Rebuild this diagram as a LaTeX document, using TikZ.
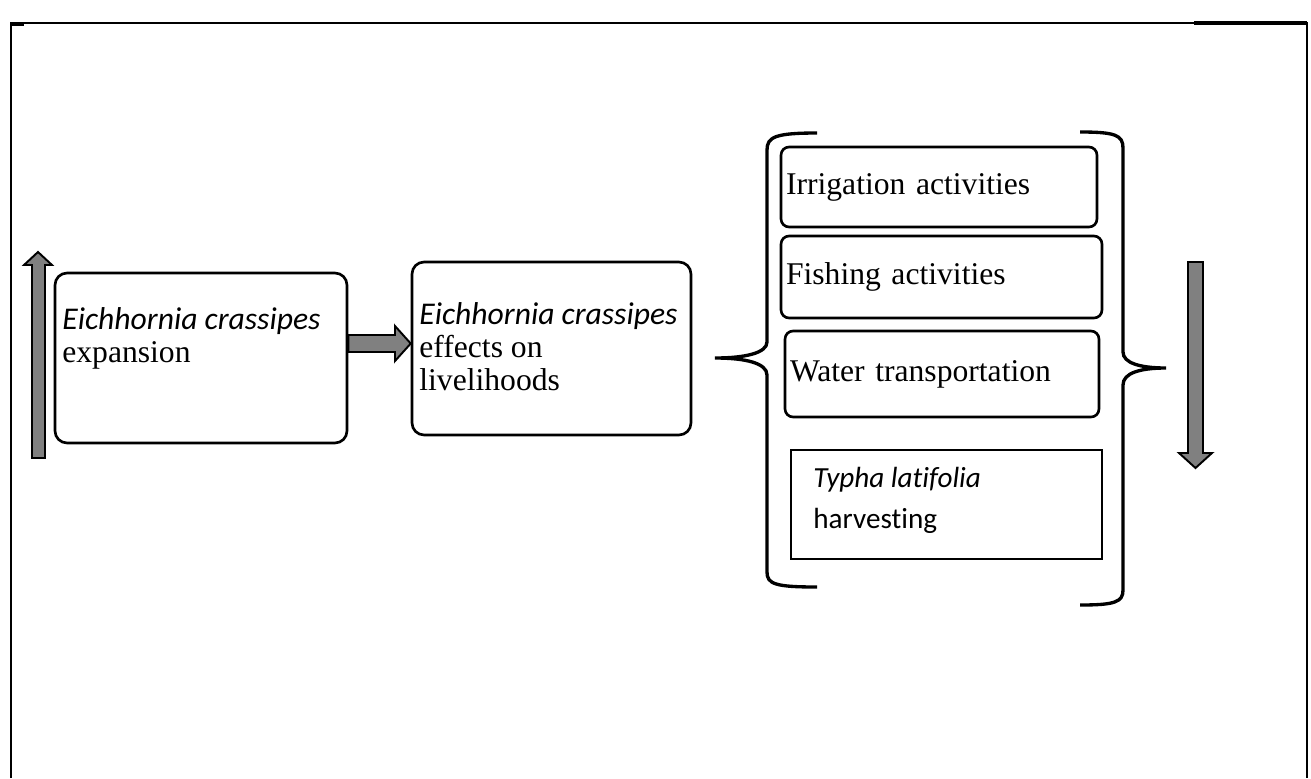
\documentclass[tikz,border=0pt]{standalone}
\usepackage{fontspec}
\setmainfont{Liberation Serif}
\newfontfamily\calibri[Ligatures=NoCommon]{Carlito}
\usetikzlibrary{positioning}

\tikzset{
	box/.style={rectangle,draw,line width=1.5pt,rounded corners=0.24cm,inner sep=0pt},
	actbox/.style={box,rounded corners=0.16cm,inner xsep=0.1cm,align=left,font=\fontsize{18}{18.7}\selectfont},
	txt/.style={inner sep=0pt,align=left,font=\fontsize{18}{18.7}\selectfont},
	blockarrow/.style={fill=gray,draw=black,line width=1.1pt,line join=miter},
	brace/.style={line width=1.9pt}
}

\begin{document}
\begin{tikzpicture}[x=0.02cm,y=-0.02cm]
	\useasboundingbox (0,0) rectangle (1311,778);
	% frame
	\draw[line width=1.2pt] (11,778) -- (11,23) -- (1307,23) -- (1307,778);
	\draw[line width=2.4pt] (1194,23) -- (1307,23);
	\draw[line width=2.4pt] (11,24) -- (24,24);

	% left part
	\node[box,minimum width=5.84cm,minimum height=3.4cm] (b1) at (201,358) {};
	\node[txt,anchor=base west] (t1) at (62,362) {{\calibri\itshape Eichhornia crassipes}\\expansion};
	\node[box,minimum width=5.58cm,minimum height=3.46cm] (b2) at (551.5,348.5) {};
	\node[txt,anchor=base west] (t2) at (419,390) {{\calibri\itshape Eichhornia crassipes}\\effects on\\livelihoods};

	\filldraw[blockarrow] (32,458) -- (32,265) -- (24,265) -- (38,252) -- (52,265) -- (45,265) -- (45,458) -- cycle;
	\filldraw[blockarrow] (b1.east |- 0,335) -- (395,335) -- (395,326) -- (b2.west |- 0,343.5) -- (395,361) -- (395,352) -- (b1.east |- 0,352) -- cycle;

	% activities
	\node[actbox,minimum height=1.6cm,text width=6.12cm] (irr) at (939,187) {Irrigation activities};
	\node[actbox,minimum height=1.64cm,text width=6.22cm] (fish) at (941.5,277) {Fishing activities};
	\node[actbox,minimum height=1.72cm,text width=6.08cm] (water) at (942,374) {Water transportation};
	\node[rectangle,draw,line width=1.1pt,minimum width=6.22cm,minimum height=2.18cm] (typha) at (946.5,504.5) {};
	\node[inner sep=0pt,align=left,font=\calibri\fontsize{16.6}{23.2}\selectfont,anchor=base west] (t6) at (813,528) {\itshape Typha latifolia\\harvesting};

	% braces
	\draw[brace] (817,133) .. controls (775,133) and (767,137) .. (767,150) -- (767,342) .. controls (767,353) and (745,358) .. (715,358) .. controls (745,358) and (767,363) .. (767,375) -- (767,572) .. controls (767,584) and (775,587) .. (817,587);
	\draw[brace] (1080,132) .. controls (1115,132) and (1123,135) .. (1123,148) -- (1123,352) .. controls (1123,363) and (1140,368) .. (1166,368) .. controls (1140,368) and (1123,373) .. (1123,385) -- (1123,590) .. controls (1123,602) and (1115,605) .. (1080,605);

	\filldraw[blockarrow] (1188,262) -- (1203,262) -- (1203,453) -- (1212,453) -- (1195.5,468) -- (1179,453) -- (1188,453) -- cycle;
\end{tikzpicture}
\end{document}
